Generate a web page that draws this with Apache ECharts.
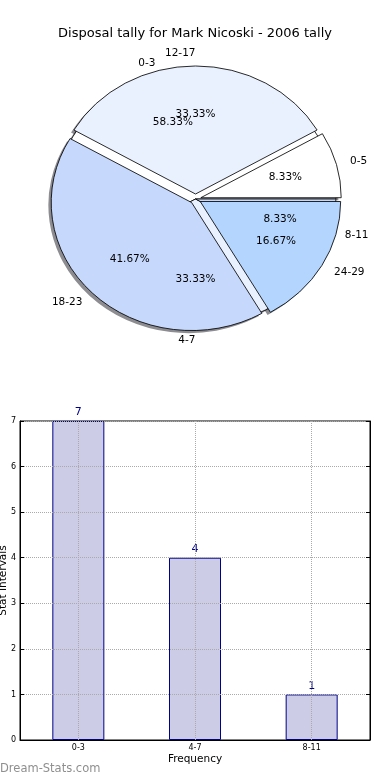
<!DOCTYPE html>
<html>
<head>
<meta charset="utf-8">
<script src="https://cdn.jsdelivr.net/npm/echarts@6/dist/echarts.min.js"></script>
<style>
html,body{margin:0;padding:0;background:#fff;}
#wrap{position:relative;width:390px;height:780px;overflow:hidden;}
#pie{position:absolute;left:0;top:0;width:390px;height:400px;}
#c{position:absolute;left:0;top:0;width:390px;height:780px;}
</style>
</head>
<body>
<div id="wrap"><div id="pie"></div><div id="c"></div></div>
<script>
const titleText = 'Disposal tally for Mark Nicoski - 2006 tally';
const freqCats = ['0-3', '4-7', '8-11'];
const freqCounts = [7, 4, 1];
const statCats = ['0-5', '12-17', '18-23', '24-29'];
const statCounts = [1, 4, 5, 2];
const freqColors = ['#ffffff', '#eaf1fe', '#c6d9fd'];
const statColors = ['#ffffff', '#eaf1fe', '#c6d9fd', '#b4d5fe'];
const yMin = 0, yMax = 7, yStep = 1;

const FONT = 'DejaVu Sans';
const CX = 195.5, CY = 199;
const R = 128;
const SX = 1.097;   // matplotlib pie is drawn as an ellipse (non-equal aspect)
const OFF = 5;
const SH = 2.6;     // shadow offset

// the pie wedges are stretched horizontally into the ellipse of the original
const pieDiv = document.getElementById('pie');
pieDiv.style.transformOrigin = CX + 'px ' + CY + 'px';
pieDiv.style.transform = 'scaleX(' + SX + ')';

function sum(a){return a.reduce((s,v)=>s+v,0);}
function pctFmt(arr){const t=sum(arr);return p=>(arr[p.dataIndex]/t*100).toFixed(2)+'%';}

const visStyle = {borderColor:'#000', borderWidth:0.8};
const hidden = {color:'rgba(0,0,0,0)', borderWidth:0};
const shadowStyle = {color:'rgba(45,45,55,0.55)', borderWidth:0};

function pieData(cats, vals, colors, selected, style){
  return cats.map((n,i)=>({
    name:n, value:vals[i], selected:selected,
    itemStyle: style || {color:colors[i]}
  }));
}

const common = {
  type:'pie', center:[CX, CY], startAngle:0, clockwise:false,
  avoidLabelOverlap:false, animation:false,
  emphasis:{disabled:true}, tooltip:{show:false}, silent:true
};

// label positions follow the explode offset and the same horizontal stretch as the wedges
function stretchLayout(forceRight, explode){
  return function(p){
    const r = p.labelRect;
    let ax;
    if (p.align === 'left') ax = r.x;
    else if (p.align === 'right') ax = r.x + r.width;
    else ax = r.x + r.width / 2;
    const ay = r.y + r.height / 2;
    let dx = ax - CX, dy = ay - CY;
    const len = Math.sqrt(dx*dx + dy*dy) || 1;
    if (explode) { dx += explode * dx / len; dy += explode * dy / len; }
    return {
      x: CX + dx * SX,
      y: CY + dy,
      align: p.dataIndex === forceRight ? 'right' : p.align,
      verticalAlign: 'middle',
      hideOverlap: false
    };
  };
}

const pieChart = echarts.init(pieDiv, null, {renderer:'svg'});
pieChart.setOption({
  animation:false,
  series:[
    // shadows (drawn beneath all wedges, as matplotlib does)
    Object.assign({}, common, {
      name:'freqShadow', radius:[0,R], center:[CX-SH, CY+SH],
      label:{show:false}, labelLine:{show:false},
      data:pieData(freqCats, freqCounts, freqColors, false, shadowStyle)
    }),
    Object.assign({}, common, {
      name:'statShadow', radius:[0,R], center:[CX-SH, CY+SH], selectedMode:'multiple', selectedOffset:OFF,
      label:{show:false}, labelLine:{show:false},
      select:{itemStyle:shadowStyle},
      data:pieData(statCats, statCounts, statColors, true, shadowStyle)
    }),
    Object.assign({}, common, {
      name:'freqBase', radius:[0,R],
      label:{show:false}, labelLine:{show:false},
      itemStyle:visStyle,
      data:pieData(freqCats, freqCounts, freqColors, false)
    }),
    Object.assign({}, common, {
      name:'statPie', radius:[0,R], selectedMode:'multiple', selectedOffset:OFF,
      label:{show:false}, labelLine:{show:false},
      itemStyle:visStyle,
      select:{itemStyle:visStyle},
      data:pieData(statCats, statCounts, statColors, true)
    })
  ]
});

const lblStyle = {fontFamily:FONT, fontSize:10.5, color:'#000'};

const chart = echarts.init(document.getElementById('c'), null, {renderer:'canvas'});
chart.setOption({
  animation:false,
  title:{text:titleText, left:'center', top:22,
    textStyle:{fontFamily:FONT, fontSize:13, fontWeight:'normal', color:'#000'}},
  graphic:[{type:'text', left:0, top:763,
    style:{text:'Dream-Stats.com', fill:'#8f8f8f', font:'11.5px "DejaVu Sans"'}}],
  grid:{left:20, right:20, top:421, bottom:40, show:true, borderColor:'#000', borderWidth:1,
    containLabel:false, outerBoundsMode:'none'},
  xAxis:[{
    type:'category', data:freqCats, z:5,
    name:'Frequency', nameLocation:'middle', nameGap:14, nameMoveOverlap:false,
    nameTextStyle:{fontFamily:FONT, fontSize:10.5, color:'#000'},
    axisLine:{lineStyle:{color:'#000'}},
    axisTick:{alignWithLabel:true, inside:true, length:4, lineStyle:{color:'#000'}},
    axisLabel:{fontFamily:FONT, fontSize:8, color:'#000', margin:4},
    splitLine:{show:true, alignWithLabel:true, lineStyle:{color:'#aaa', type:'dotted', width:1}}
  },{
    type:'category', data:freqCats, position:'top', z:5,
    axisLine:{show:false},
    axisTick:{alignWithLabel:true, inside:true, length:4, lineStyle:{color:'#000'}},
    axisLabel:{show:false}, splitLine:{show:false}
  }],
  yAxis:[{
    type:'value', min:yMin, max:yMax, interval:yStep, z:5,
    name:'Stat Intervals', nameLocation:'middle', nameGap:11, nameMoveOverlap:false,
    nameTextStyle:{fontFamily:FONT, fontSize:10.5, color:'#000'},
    axisLine:{show:true, lineStyle:{color:'#000'}},
    axisTick:{show:true, inside:true, length:4, lineStyle:{color:'#000'}},
    axisLabel:{fontFamily:FONT, fontSize:8, color:'#000', margin:4},
    splitLine:{show:true, lineStyle:{color:'#aaa', type:'dotted', width:1}}
  },{
    type:'value', min:yMin, max:yMax, interval:yStep, position:'right', z:5,
    axisLine:{show:true, lineStyle:{color:'#000'}},
    axisTick:{show:true, inside:true, length:4, lineStyle:{color:'#000'}},
    axisLabel:{show:false}, splitLine:{show:false}
  }],
  series:[
    Object.assign({}, common, {
      name:'freqNames', radius:[0,R],
      label:Object.assign({show:true, position:'outside', formatter:'{b}', distanceToLabelLine:0}, lblStyle),
      labelLine:{show:false, length:R*0.1, length2:0},
      labelLayout:stretchLayout(-1, 0),
      data:pieData(freqCats, freqCounts, freqColors, false, hidden)
    }),
    Object.assign({}, common, {
      name:'statNames', radius:[0,R],
      label:Object.assign({show:true, position:'outside', formatter:'{b}', distanceToLabelLine:0}, lblStyle),
      labelLine:{show:false, length:R*0.1, length2:0},
      labelLayout:stretchLayout(1, OFF),
      data:pieData(statCats, statCounts, statColors, false, hidden)
    }),
    Object.assign({}, common, {
      name:'freqPct', radius:[R*0.2,R],
      label:Object.assign({show:true, position:'inside', formatter:pctFmt(freqCounts)}, lblStyle),
      labelLine:{show:false},
      labelLayout:stretchLayout(-1, 0),
      data:pieData(freqCats, freqCounts, freqColors, false, hidden)
    }),
    Object.assign({}, common, {
      name:'statPct', radius:[R*0.2,R],
      label:Object.assign({show:true, position:'inside', formatter:pctFmt(statCounts)}, lblStyle),
      labelLine:{show:false},
      labelLayout:stretchLayout(-1, OFF),
      data:pieData(statCats, statCounts, statColors, false, hidden)
    }),
    {
      type:'bar', name:'Frequency', data:freqCounts, barWidth:52, xAxisIndex:0, yAxisIndex:0,
      itemStyle:{color:'#cccce6', borderColor:'#00008b', borderWidth:1},
      label:{show:true, position:'top', distance:3, color:'#00008b', fontFamily:FONT, fontSize:11},
      emphasis:{disabled:true}, animation:false
    }
  ]
});
</script>
</body>
</html>
